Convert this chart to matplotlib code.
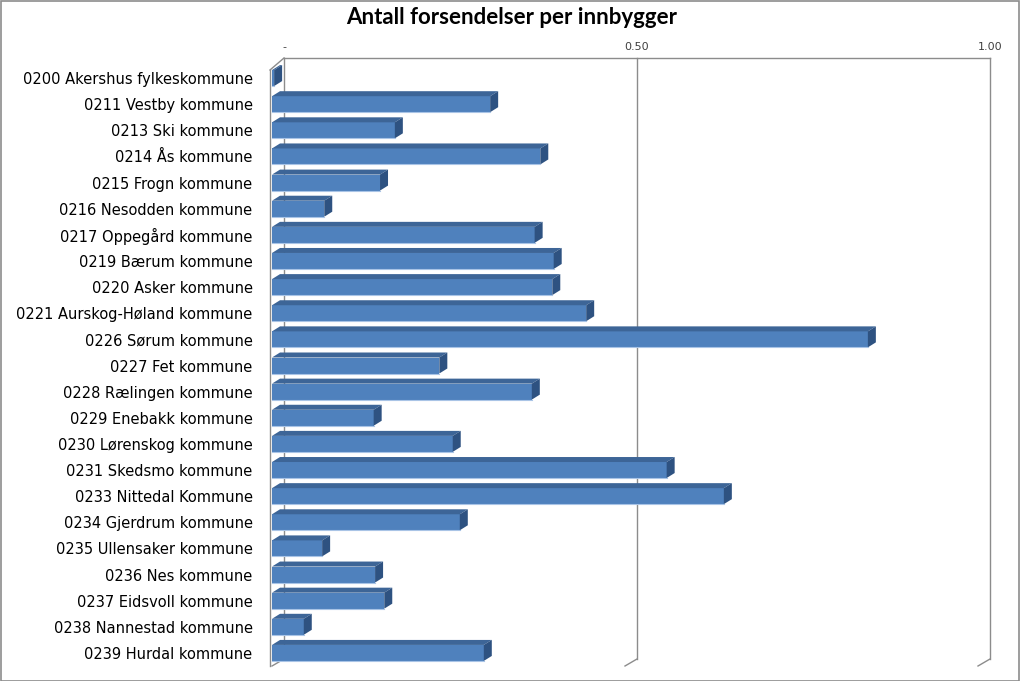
import matplotlib
matplotlib.use("Agg")
import matplotlib.pyplot as plt
from matplotlib.patches import Rectangle

plt.rcParams["font.family"] = ["DejaVu Sans"]

# Kommuner og verdier (antall forsendelser per innbygger)
kommuner = [
    "0200 Akershus fylkeskommune", "0211 Vestby kommune", "0213 Ski kommune",
    "0214 Ås kommune", "0215 Frogn kommune", "0216 Nesodden kommune",
    "0217 Oppegård kommune", "0219 Bærum kommune", "0220 Asker kommune",
    "0221 Aurskog-Høland kommune", "0226 Sørum kommune", "0227 Fet kommune",
    "0228 Rælingen kommune", "0229 Enebakk kommune", "0230 Lørenskog kommune",
    "0231 Skedsmo kommune", "0233 Nittedal Kommune", "0234 Gjerdrum kommune",
    "0235 Ullensaker kommune", "0236 Nes kommune", "0237 Eidsvoll kommune",
    "0238 Nannestad kommune", "0239 Hurdal kommune",
]
verdier = [
    0.003, 0.309, 0.174, 0.380, 0.153, 0.074, 0.372, 0.399, 0.397, 0.445,
    0.844, 0.237, 0.368, 0.144, 0.256, 0.559, 0.640, 0.266, 0.071, 0.146,
    0.159, 0.045, 0.300,
]
x_ticks = [0.0, 0.5, 1.0]
x_tick_labels = ["-", "0.50", "1.00"]

W, H = 1024, 681
fig = plt.figure(figsize=(W / 100, H / 100), dpi=100)
ax_left, ax_right, ax_top, ax_bot = 272, 978, 65, 666
ax = fig.add_axes([ax_left / W, (H - ax_bot) / H,
                   (ax_right - ax_left) / W, (ax_bot - ax_top) / H])

n = len(kommuner)
y_top, y_bot = -0.5, n - 0.5
ax.set_xlim(0, 1)
ax.set_ylim(y_bot, y_top)

px_x = 1.0 / (ax_right - ax_left)
px_y = (y_bot - y_top) / (ax_bot - ax_top)

# 3D-forskyvning for vegger og stolper
wdx, wdy = 12 * px_x, 7 * px_y
bdx, bdy = 8 * px_x, 5 * px_y
h = 16 * px_y

grey = "#8c8c8c"
# bakvegg og gulv
ax.plot([wdx, 1 + wdx], [y_top - wdy, y_top - wdy], color=grey, lw=1, clip_on=False, zorder=1)
for xt in x_ticks:
    ax.plot([xt + wdx, xt + wdx], [y_top - wdy, y_bot - wdy], color=grey, lw=1, clip_on=False, zorder=1)
    ax.plot([xt, xt + wdx], [y_bot, y_bot - wdy], color=grey, lw=1, clip_on=False, zorder=1)
# venstre sidevegg
ax.plot([-2 * px_x, -2 * px_x], [y_top + 5 * px_y, y_bot], color=grey, lw=1, clip_on=False, zorder=1)
ax.plot([-2 * px_x, wdx], [y_top + 5 * px_y, y_top - wdy], color=grey, lw=1, clip_on=False, zorder=1)

# stolper
pos = list(range(n))
ax.barh(pos, verdier, height=h, left=0, color="#4f81bd", edgecolor="none", zorder=3)
for c, v in zip(pos, verdier):
    t, b = c - h / 2, c + h / 2
    ax.fill([0, v, v + bdx, bdx], [t, t, t - bdy, t - bdy],
            color="#3d6597", lw=0, zorder=3, clip_on=False)
    ax.fill([v, v + bdx, v + bdx, v], [t, t - bdy, b - bdy, b],
            color="#2e5281", lw=0, zorder=3, clip_on=False)
    ax.plot([0, v], [b, b], color="#a9c4e6", lw=0.8, zorder=4)

# aksetekster
ax.set_yticks(pos)
ax.set_yticklabels(kommuner, fontsize=10.5)
ax.tick_params(axis="y", length=0, pad=14)
ax.set_xticks([])
for s in ax.spines.values():
    s.set_visible(False)
ax.patch.set_alpha(0)

for xt, lab in zip(x_ticks, x_tick_labels):
    ax.text(xt + wdx, y_top - 18 * px_y, lab, ha="center", va="center",
            fontsize=8, color="#404040")

fig.text(512 / W, 1 - 18 / H, "Antall forsendelser per innbygger",
         ha="center", va="center", fontsize=16, fontweight="bold", family="Lato")

fig.patches.append(Rectangle((0.5 / W, 0.5 / H), 1018 / W, (H - 1.5) / H,
                             transform=fig.transFigure, fill=False,
                             edgecolor="#8c8c8c", lw=1.2))

fig.savefig("out.png", dpi=100)
